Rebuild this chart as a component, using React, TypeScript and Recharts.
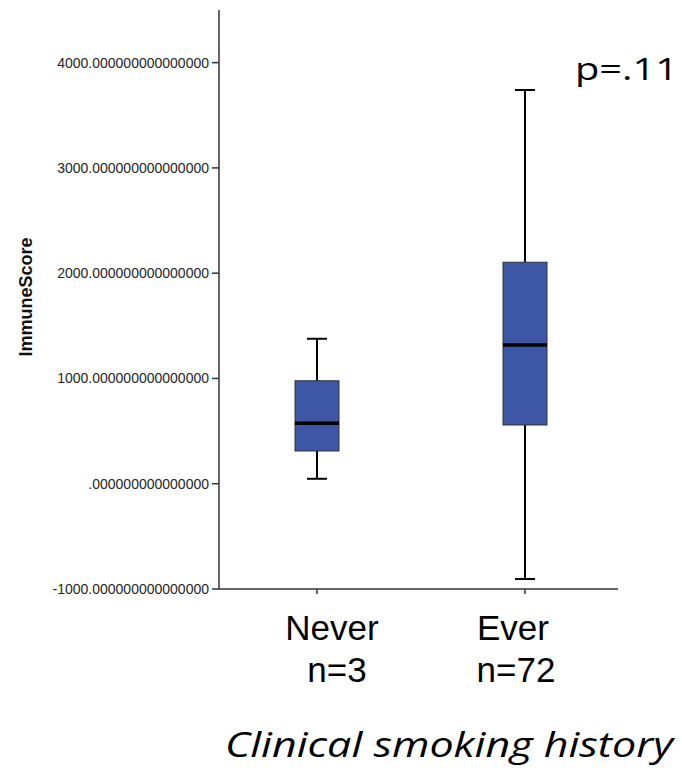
import { ComposedChart, Bar, XAxis, YAxis } from 'recharts';

// ImmuneScore by smoking history, box-and-whisker summary per group
const groups = ['Never', 'Ever'];
const counts = [3, 72];
const whiskerLow = [47, -905];
const quartile1 = [311, 558];
const medians = [574, 1318];
const quartile3 = [978, 2104];
const whiskerHigh = [1377, 3740];
const yTicks = [-1000, 0, 1000, 2000, 3000, 4000];
const pValue = 'p=.11';
const xTitle = 'Clinical smoking history';
const yTitle = 'ImmuneScore';

const rows = groups.map((group, i) => ({
  group,
  n: counts[i],
  low: whiskerLow[i],
  q1: quartile1[i],
  median: medians[i],
  q3: quartile3[i],
  high: whiskerHigh[i],
  iqr: [quartile1[i], quartile3[i]],
}));

const BOX_FILL = '#3d56a6';
const SANS = '"Liberation Sans", Arial, sans-serif';

// the bar covers q1..q3; whiskers and median are placed with the same px/unit ratio
function BoxShape(props: any) {
  const { x, y, width, height, payload } = props;
  const top = Math.min(y, y + height);
  const h = Math.abs(height);
  const k = h / (payload.q3 - payload.q1);
  const at = (v: number) => top + (payload.q3 - v) * k;
  const cx = x + width / 2;
  const cap = 10;
  return (
    <g>
      <line x1={cx} x2={cx} y1={at(payload.high)} y2={top} stroke="#000" strokeWidth={2} />
      <line x1={cx} x2={cx} y1={top + h} y2={at(payload.low)} stroke="#000" strokeWidth={2} />
      <line x1={cx - cap} x2={cx + cap} y1={at(payload.high)} y2={at(payload.high)} stroke="#000" strokeWidth={2} />
      <line x1={cx - cap} x2={cx + cap} y1={at(payload.low)} y2={at(payload.low)} stroke="#000" strokeWidth={2} />
      <rect x={x} y={top} width={width} height={h} fill={BOX_FILL} stroke="#333" strokeWidth={1} />
      <line x1={x} x2={x + width} y1={at(payload.median)} y2={at(payload.median)} stroke="#000" strokeWidth={3.5} />
    </g>
  );
}

const nameShift = [15, -12];
const countShift = [20, -9];

function GroupTick(props: any) {
  const { x, y, payload, index } = props;
  return (
    <g>
      <text x={x + nameShift[index]} y={y + 44} textAnchor="middle" fontFamily={SANS} fontSize={35} fill="#000">
        {payload.value}
      </text>
      <text x={x + countShift[index]} y={y + 86} textAnchor="middle" fontFamily={SANS} fontSize={35} fill="#000">
        {`n=${counts[index]}`}
      </text>
    </g>
  );
}

const formatTick = (v: number) => `${v === 0 ? '' : v}.${'0'.repeat(15)}`;

export default function App() {
  return (
    <div style={{ position: 'absolute', left: 0, top: 0, width: 682, height: 783, background: '#fff' }}>
      <ComposedChart width={682} height={783} data={rows} margin={{ top: 10, right: 64, bottom: 0, left: 0 }}>
        <XAxis
          dataKey="group"
          height={194}
          padding={{ left: -6, right: -11 }}
          axisLine={{ stroke: '#333', strokeWidth: 1.5 }}
          tickLine={{ stroke: '#333', strokeWidth: 1.5 }}
          tickSize={5}
          tickMargin={2}
          tick={<GroupTick />}
          interval={0}
        />
        <YAxis
          type="number"
          domain={[-1000, 4500]}
          ticks={yTicks}
          width={219}
          axisLine={{ stroke: '#333', strokeWidth: 1.5 }}
          tickLine={{ stroke: '#333', strokeWidth: 1.5 }}
          tickSize={7}
          tickMargin={3}
          tickFormatter={formatTick}
          tick={{ fontFamily: SANS, fontSize: 14, fill: '#262626' }}
          allowDataOverflow
        />
        <Bar dataKey="iqr" barSize={44} shape={<BoxShape />} isAnimationActive={false} />
        <text
          x={26}
          y={297}
          transform="rotate(-90 26 297)"
          textAnchor="middle"
          dominantBaseline="central"
          fontFamily={SANS}
          fontWeight="bold"
          fontSize={18}
          fill="#111"
        >
          {yTitle}
        </text>
        <text x={575} y={80} fontFamily='"Open Sans", sans-serif' fontSize={31} fill="#000" textLength={103} lengthAdjust="spacingAndGlyphs">
          {pValue}
        </text>
        <text
          x={225}
          y={757}
          fontFamily='"Open Sans", sans-serif'
          fontStyle="italic"
          fontSize={34}
          fill="#000"
          textLength={448}
          lengthAdjust="spacingAndGlyphs"
        >
          {xTitle}
        </text>
      </ComposedChart>
    </div>
  );
}
